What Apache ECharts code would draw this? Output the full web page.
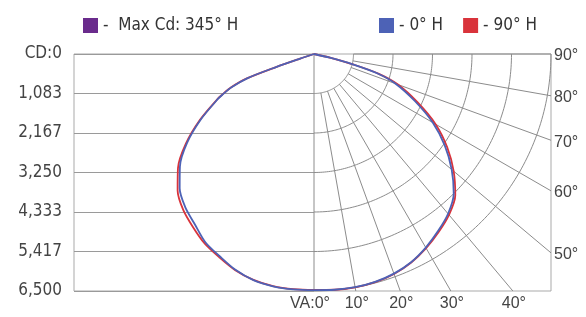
<!DOCTYPE html>
<html><head><meta charset="utf-8">
<script src="https://cdn.jsdelivr.net/npm/echarts@6.0.0/dist/echarts.min.js"></script>
<style>html,body{margin:0;padding:0;background:#fff}#c{width:586px;height:317px}</style>
</head><body><div id="c"></div>
<script>
// ---- data (candela vs vertical angle) ----
const cdLabels = ['CD:0', '1,083', '2,167', '3,250', '4,333', '5,417', '6,500'];
const cdMax = 6500;
const gridRadii = [1083.33, 2166.67, 3250, 4333.33, 5416.67, 6500];
const spokeAngles = [0, 10, 20, 30, 40, 50, 60, 70, 80, 90];
const spokeLabels = ['VA:0°', '10°', '20°', '30°', '40°', '50°', '60°', '70°', '80°', '90°'];

const seriesNames = ['-  Max Cd: 345° H', '- 0° H', '- 90° H'];

// right half (one side of plane)
const angR  = [0, 5, 10, 15, 20, 25, 30, 35, 40, 45, 50, 55, 60, 65, 70, 73, 75, 77, 78.5];
const blueR = [6480, 6490, 6495, 6470, 6410, 6300, 6130, 5930, 5720, 5420, 4930, 4380, 3760, 3050, 2380, 1810, 1100, 450, 0];
const redR  = [6470, 6490, 6500, 6480, 6420, 6310, 6150, 5960, 5760, 5480, 5000, 4460, 3850, 3130, 2450, 1860, 1130, 470, 0];
// left half (opposite side of plane)
const angL  = [0, 5, 10, 15, 20, 25, 30, 35, 40, 45, 50, 55, 60, 65, 66, 68, 70, 71, 71.6, 72];
const blueL = [6475, 6480, 6470, 6420, 6300, 6120, 5960, 5700, 5490, 5210, 4800, 4250, 3580, 2900, 2750, 2450, 1950, 1100, 400, 0];
const redL  = [6470, 6475, 6465, 6415, 6310, 6150, 6000, 5790, 5580, 5290, 4870, 4290, 3610, 2920, 2770, 2460, 1960, 1100, 400, 0];

const maxCdCurve = []; // not visible in reference

// ---- build curve points through polar -> cartesian value conversion ----
function curve(angL, valL, angR, valR) {
  const pts = [];
  for (let i = angL.length - 1; i >= 0; i--) {
    const a = angL[i] * Math.PI / 180;
    pts.push([-valL[i] * Math.sin(a), valL[i] * Math.cos(a)]);
  }
  for (let i = 1; i < angR.length; i++) {
    const a = angR[i] * Math.PI / 180;
    pts.push([valR[i] * Math.sin(a), valR[i] * Math.cos(a)]);
  }
  return pts;
}

const GRID_LEFT = 74, GRID_TOP = 54, GRID_RIGHT = 35, GRID_BOTTOM = 26;
const leftWidthPx = 240, halfPx = 237;
const xMin = -cdMax * leftWidthPx / halfPx;
const legendFont = "'DejaVu Sans Condensed','Liberation Sans Narrow',sans-serif";

const chart = echarts.init(document.getElementById('c'), null, { renderer: 'canvas' });

const option = {
  animation: false,
  backgroundColor: '#fff',
  legend: [
    { data: [seriesNames[0]], left: 78, top: 12, icon: 'rect', itemWidth: 15, itemHeight: 15, itemGap: 18,
      textStyle: { fontSize: 17, color: '#333', fontFamily: legendFont } },
    { data: [seriesNames[1], seriesNames[2]], left: 374, top: 12, icon: 'rect', itemWidth: 15, itemHeight: 15, itemGap: 20,
      textStyle: { fontSize: 17, color: '#333', fontFamily: legendFont } }
  ],
  grid: [
    { left: GRID_LEFT, right: GRID_RIGHT, top: GRID_TOP, bottom: GRID_BOTTOM, show: true, borderColor: '#a9a9a9', borderWidth: 1, containLabel: false },
    { left: GRID_LEFT, width: leftWidthPx, top: GRID_TOP, bottom: GRID_BOTTOM, show: false, containLabel: false }
  ],
  xAxis: [
    { gridIndex: 0, type: 'value', min: xMin, max: cdMax, show: false },
    { gridIndex: 1, type: 'value', min: 0, max: 1, show: false }
  ],
  yAxis: [
    { gridIndex: 0, type: 'value', min: 0, max: cdMax, inverse: true, show: false },
    { gridIndex: 1, type: 'value', min: 0, max: cdLabels.length - 1, interval: 1, inverse: true,
      axisLine: { show: false }, axisTick: { show: false },
      splitLine: { show: true, lineStyle: { color: '#9a9a9a', width: 1 } },
      axisLabel: { margin: 12, fontSize: 17, color: '#444', fontFamily: "'DejaVu Sans Condensed','DejaVu Sans',sans-serif",
        formatter: v => cdLabels[Math.round(v)] } }
  ],
  series: [
    {
      type: 'custom', xAxisIndex: 0, yAxisIndex: 0, silent: true, z: 1,
      data: [[0, 0]],
      renderItem: function (params, api) {
        const children = [];
        const P = (r, deg) => {
          const a = deg * Math.PI / 180;
          return api.coord([r * Math.sin(a), r * Math.cos(a)]);
        };
        const lineStyle = { stroke: '#8c8c8c', lineWidth: 1, fill: null };
        gridRadii.forEach(r => {
          const pts = [];
          for (let a = 0; a <= 90; a += 1) pts.push(P(r, a));
          children.push({ type: 'polyline', shape: { points: pts }, style: lineStyle });
        });
        spokeAngles.forEach((deg, i) => {
          const a = deg * Math.PI / 180;
          const s = Math.sin(a), c = Math.cos(a);
          const rEnd = Math.min(s > 1e-9 ? cdMax / s : Infinity, c > 1e-9 ? cdMax / c : Infinity);
          const r0 = deg === 0 ? 0 : gridRadii[0];
          const p0 = P(r0, deg), p1 = P(rEnd, deg);
          children.push({ type: 'line', shape: { x1: p0[0], y1: p0[1], x2: p1[0], y2: p1[1] }, style: lineStyle });
          const onRight = deg >= 45;
          children.push({
            type: 'text',
            x: onRight ? p1[0] + 3 : p1[0] + (deg === 0 ? -4 : 1),
            y: onRight ? p1[1] + 2 : p1[1] + 5,
            style: {
              text: spokeLabels[i], fill: '#444', font: "16px 'Liberation Sans', sans-serif",
              align: onRight ? 'left' : 'center', verticalAlign: onRight ? 'middle' : 'top'
            }
          });
        });
        return { type: 'group', children: children };
      }
    },
    { name: seriesNames[2], type: 'line', xAxisIndex: 0, yAxisIndex: 0, data: curve(angL, redL, angR, redR),
      smooth: 0.3, symbol: 'none', z: 3, color: '#d9333b', lineStyle: { width: 1.8, color: '#d9333b' } },
    { name: seriesNames[1], type: 'line', xAxisIndex: 0, yAxisIndex: 0, data: curve(angL, blueL, angR, blueR),
      smooth: 0.3, symbol: 'none', z: 4, color: '#4d62b6', lineStyle: { width: 1.8, color: '#4d62b6' } },
    { name: seriesNames[0], type: 'line', xAxisIndex: 0, yAxisIndex: 0, data: maxCdCurve,
      symbol: 'none', z: 2, color: '#6a2b8c', lineStyle: { width: 1.8, color: '#6a2b8c' } }
  ]
};
chart.setOption(option);
</script></body></html>
